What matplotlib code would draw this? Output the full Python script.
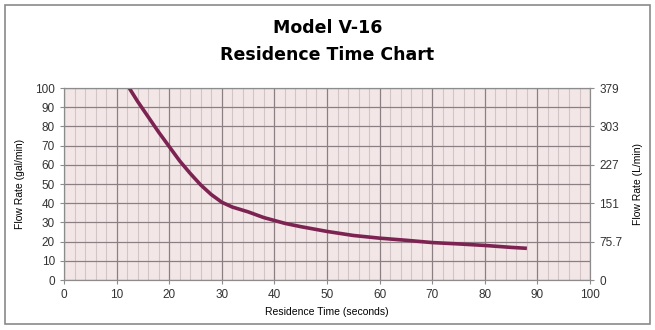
"""Residence time chart for Model V-16, flow rate vs residence time."""

import matplotlib

matplotlib.use("Agg")
from matplotlib import pyplot as plt
from matplotlib.patches import Rectangle
import numpy as np

# curve (seconds, gal/min)
residence_time = [12.4, 14, 16, 18, 20, 22, 24, 26, 28, 30, 32, 35, 38, 40, 42,
                  45, 48, 50, 55, 60, 65, 70, 75, 80, 85, 88]
flow_gpm = [100, 93, 85, 77, 69.5, 62, 55.5, 49.5, 44.5, 40.5, 38, 35.5, 32.5,
            31, 29.5, 27.8, 26.3, 25.3, 23.2, 21.8, 20.7, 19.5, 18.8, 18, 17, 16.5]

left_ticks = list(range(0, 101, 10))
right_ticks = [0, 20, 40, 60, 80, 100]
right_labels = ["0", "75.7", "151", "227", "303", "379"]
x_ticks = list(range(0, 101, 10))

plt.rcParams["font.family"] = ["Liberation Sans", "DejaVu Sans"]

fig = plt.figure(figsize=(6.55, 3.3), dpi=100)
fig.patches.append(Rectangle((0.008, 0.018), 0.984, 0.967, transform=fig.transFigure,
                             fill=False, edgecolor="#8a8a8a", linewidth=1.2))

ax = fig.add_axes([0.0977, 0.1515, 0.8031, 0.5818])
ax.set_facecolor("#f2e6e7")
ax.set_xlim(0, 100)
ax.set_ylim(0, 100)

# minor grid first, majors on top
ax.set_xticks(np.arange(0, 101, 2), minor=True)
ax.grid(which="minor", axis="x", color="#d3c4c7", linewidth=0.8)
ax.grid(which="major", axis="x", color="#8c7f83", linewidth=0.9)
ax.grid(which="major", axis="y", color="#8c7f83", linewidth=0.9)
ax.set_axisbelow(True)

ax.plot(residence_time, flow_gpm, color="#7d2352", linewidth=2.6, solid_capstyle="butt")

ax.set_xticks(x_ticks)
ax.set_yticks(left_ticks)
ax.tick_params(which="both", length=3, color="#8c8c8c", labelsize=8.5,
               labelcolor="#333333")
ax.tick_params(which="minor", length=0)
for spine in ax.spines.values():
    spine.set_color("#8c8c8c")
ax.set_xlabel("Residence Time (seconds)", fontsize=7.5, labelpad=4)
ax.set_ylabel("Flow Rate (gal/min)", fontsize=7.5, labelpad=7)

ax2 = ax.twinx()
ax2.set_ylim(0, 100)
ax2.set_yticks(right_ticks, right_labels)
ax2.tick_params(length=3, color="#8c8c8c", labelsize=8.5, labelcolor="#333333")
for spine in ax2.spines.values():
    spine.set_color("#8c8c8c")
ax2.set_ylabel("Flow Rate (L/min)", fontsize=7.5, labelpad=8)

title_font = {"family": "DejaVu Sans", "fontsize": 12.5, "fontweight": "heavy",
              "fontstretch": "expanded"}
fig.text(0.5, 0.915, "Model V-16", ha="center", va="center", **title_font)
fig.text(0.5, 0.833, "Residence Time Chart", ha="center", va="center", **title_font)

fig.savefig("out.png", dpi=100)
